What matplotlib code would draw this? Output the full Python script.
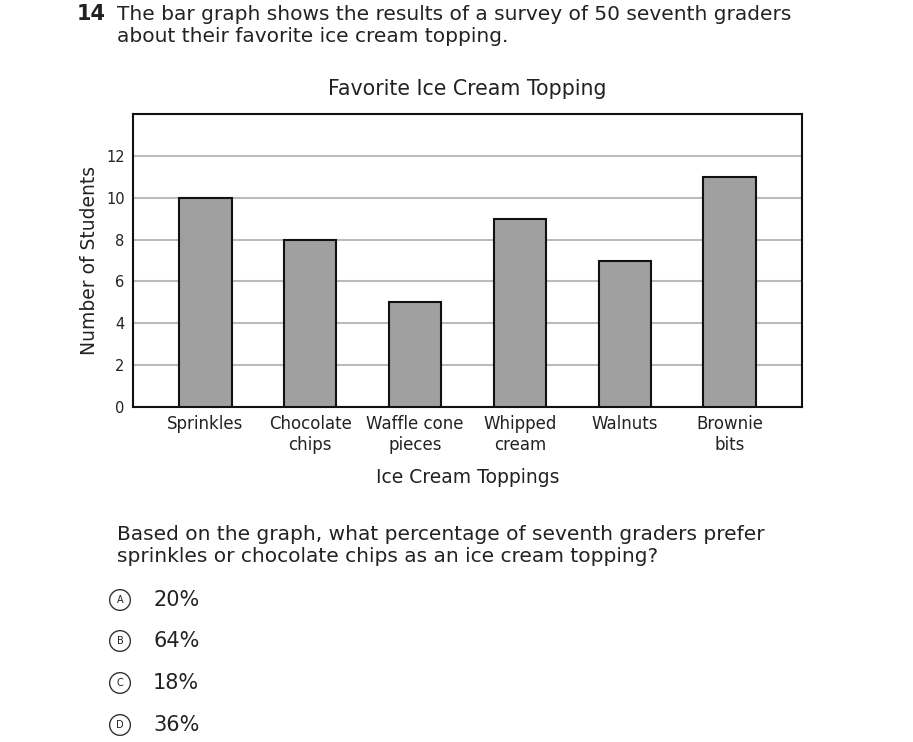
import matplotlib
matplotlib.use("Agg")
import matplotlib.pyplot as plt

toppings = ["Sprinkles", "Chocolate\nchips", "Waffle cone\npieces", "Whipped\ncream", "Walnuts", "Brownie\nbits"]
students = [10, 8, 5, 9, 7, 11]
y_ticks = [0, 2, 4, 6, 8, 10, 12]
choices = ["A", "B", "C", "D"]
answers = ["20%", "64%", "18%", "36%"]

W, H = 913, 742
fig = plt.figure(figsize=(W / 100, H / 100), dpi=100)
txt = "#222222"

def fx(px):
    return px / W

def fy(py):
    return 1 - py / H

# question header
fig.text(fx(77), fy(14), "14", fontsize=15, fontweight="bold", color=txt, va="center", ha="left")
fig.text(fx(117), fy(14), "The bar graph shows the results of a survey of 50 seventh graders",
         fontsize=14.5, color=txt, va="center", ha="left")
fig.text(fx(117), fy(37), "about their favorite ice cream topping.",
         fontsize=14.5, color=txt, va="center", ha="left")

# chart
ax = fig.add_axes([fx(133), fy(407), fx(802) - fx(133), fy(114) - fy(407)])
x = range(len(toppings))
ax.bar(x, students, width=0.5, color="#a0a0a0", edgecolor="#111111", linewidth=1.5, zorder=3)
ax.set_xlim(-0.69, 5.69)
ax.set_ylim(0, 14)
ax.set_yticks(y_ticks)
ax.set_yticklabels([str(v) for v in y_ticks], fontsize=10.5, color=txt)
ax.set_xticks(list(x))
ax.set_xticklabels(toppings, fontsize=12, color=txt, linespacing=1.2)
ax.tick_params(length=0, pad=6)
ax.tick_params(axis="x", pad=6)
ax.grid(axis="y", color="#bbbbbb", linewidth=1.5, zorder=0)
for s in ax.spines.values():
    s.set_linewidth(1.5)
    s.set_color("#111111")
ax.set_title("Favorite Ice Cream Topping", fontsize=14.8, color=txt, pad=14)
ax.set_xlabel("Ice Cream Toppings", fontsize=13.5, color=txt, labelpad=10)
ax.set_ylabel("Number of Students", fontsize=13.5, color=txt, labelpad=5)

# question
fig.text(fx(117), fy(534), "Based on the graph, what percentage of seventh graders prefer",
         fontsize=14.5, color=txt, va="center", ha="left")
fig.text(fx(117), fy(557), "sprinkles or chocolate chips as an ice cream topping?",
         fontsize=14.5, color=txt, va="center", ha="left")

opt_y = [600, 641, 683, 725]
for letter, ans, py in zip(choices, answers, opt_y):
    fig.text(fx(120), fy(py), letter, fontsize=7, color=txt, ha="center", va="center",
             bbox=dict(boxstyle="circle,pad=0.55", fc="white", ec="#333333", lw=1.0))
    fig.text(fx(153), fy(py), ans, fontsize=15, color=txt, ha="left", va="center")

fig.savefig("out.png", dpi=100, facecolor="white")
